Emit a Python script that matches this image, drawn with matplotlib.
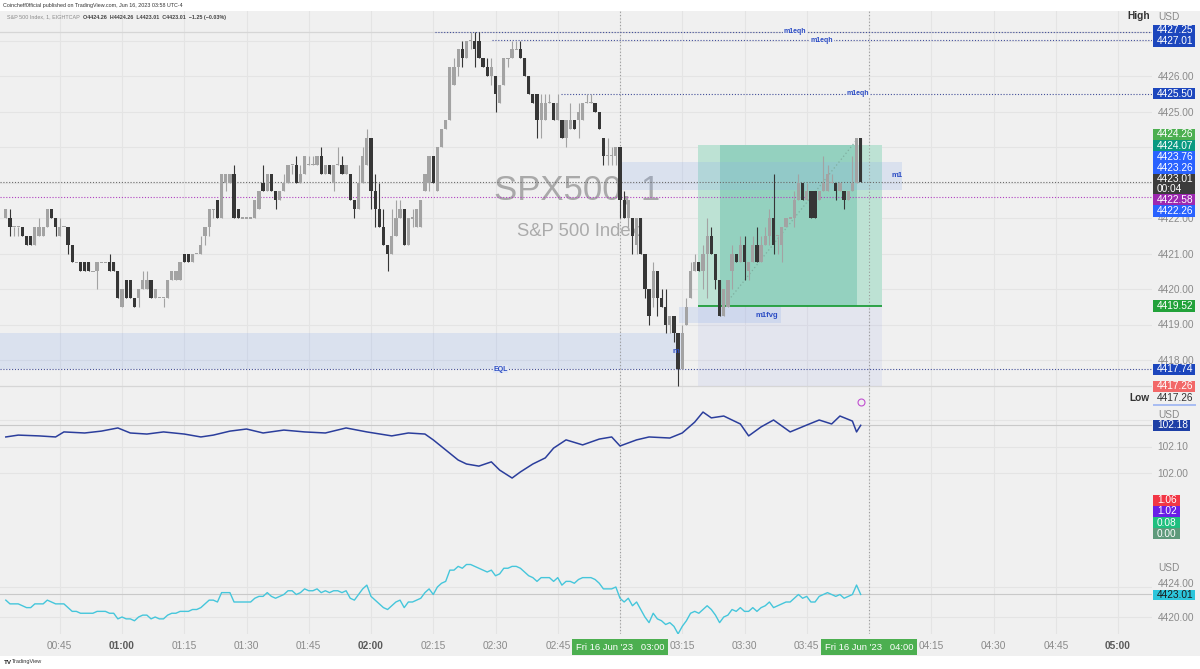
import numpy as np
import matplotlib
matplotlib.use("Agg")
import matplotlib.pyplot as plt
from matplotlib.patches import Rectangle
import matplotlib.transforms as mtrans

plt.rcParams['font.family'] = ['Liberation Sans', 'DejaVu Sans']

# ---------------------------------------------------------------- data
start_minute = 32  # first candle 00:32 (minutes after midnight), 1-minute bars

opens = [
    4422.00, 4422.00, 4421.75, 4421.75, 4421.75, 4421.50, 4421.50, 4421.25, 4421.50, 4421.50,
    4421.75, 4422.25, 4422.00, 4421.50, 4421.75, 4421.75, 4421.25, 4420.75, 4420.75, 4420.75,
    4420.75, 4420.50, 4420.50, 4420.75, 4420.75, 4420.75, 4420.75, 4420.50, 4419.50, 4420.25,
    4420.25, 4419.75, 4419.75, 4420.00, 4420.00, 4420.25, 4419.75, 4419.75, 4419.75, 4419.75,
    4420.25, 4420.25, 4420.25, 4421.00, 4421.00, 4420.75, 4421.00, 4421.00, 4421.50, 4421.75,
    4422.25, 4422.50, 4422.00, 4423.00, 4423.00, 4423.25, 4422.25, 4422.00, 4422.00, 4422.00,
    4422.00, 4422.25, 4423.00, 4422.75, 4423.25, 4422.75, 4422.50, 4422.75, 4423.00, 4423.50,
    4423.50, 4423.00, 4423.25, 4423.50, 4423.50, 4423.50, 4423.75, 4423.25, 4423.50, 4423.00,
    4423.50, 4423.50, 4423.25, 4423.25, 4422.50, 4422.25, 4423.00, 4423.50, 4424.25, 4422.75,
    4422.25, 4421.75, 4421.25, 4421.00, 4421.50, 4422.00, 4422.25, 4421.25, 4422.00, 4421.75,
    4421.75, 4422.75, 4423.00, 4423.75, 4422.75, 4424.00, 4424.50, 4424.75, 4425.75, 4426.25,
    4426.75, 4426.50, 4427.00, 4427.00, 4427.00, 4426.50, 4426.25, 4426.00, 4426.00, 4425.25,
    4425.75, 4426.50, 4426.50, 4426.75, 4426.75, 4426.50, 4426.00, 4425.50, 4425.50, 4424.75,
    4424.75, 4425.25, 4425.25, 4424.75, 4424.75, 4424.25, 4424.50, 4424.75, 4424.75, 4424.75,
    4425.25, 4425.25, 4425.25, 4425.00, 4424.25, 4423.75, 4423.75, 4423.75, 4424.00, 4422.50,
    4422.00, 4422.00, 4421.25, 4422.00, 4421.00, 4420.00, 4419.75, 4420.50, 4419.75, 4419.50,
    4419.00, 4419.25, 4418.75, 4417.75, 4419.00, 4419.75, 4420.50, 4420.75, 4420.50, 4421.00,
    4421.50, 4421.00, 4420.25, 4419.25, 4419.50, 4420.50, 4421.00, 4420.75, 4421.25, 4420.50,
    4420.75, 4421.25, 4420.75, 4421.25, 4421.50, 4422.00, 4421.50, 4421.25, 4421.75, 4422.00,
    4422.00, 4422.50, 4423.00, 4422.50, 4422.75, 4422.75, 4422.50, 4422.75, 4422.75, 4423.00,
    4423.00, 4422.75, 4422.75, 4422.50, 4422.75, 4423.00, 4424.26,
]
highs = [
    4422.25, 4422.25, 4421.75, 4421.75, 4421.75, 4421.50, 4421.50, 4421.75, 4422.00, 4421.75,
    4422.25, 4422.25, 4422.00, 4422.00, 4421.75, 4421.75, 4421.25, 4420.75, 4420.75, 4420.75,
    4420.75, 4420.50, 4420.75, 4420.75, 4420.75, 4421.00, 4420.75, 4420.50, 4420.00, 4420.25,
    4420.25, 4419.75, 4420.00, 4420.50, 4420.50, 4420.25, 4420.00, 4419.75, 4419.75, 4420.25,
    4420.50, 4420.50, 4420.75, 4421.00, 4421.00, 4421.00, 4421.00, 4421.50, 4421.75, 4422.25,
    4422.25, 4422.50, 4423.25, 4423.25, 4423.25, 4423.50, 4422.25, 4422.00, 4422.00, 4422.00,
    4422.50, 4422.75, 4423.50, 4423.25, 4423.25, 4422.75, 4422.75, 4423.25, 4423.50, 4423.50,
    4423.75, 4423.50, 4423.75, 4423.75, 4423.75, 4423.75, 4424.00, 4423.50, 4423.50, 4423.50,
    4424.00, 4423.75, 4423.50, 4423.25, 4422.50, 4423.50, 4424.00, 4424.50, 4424.25, 4423.25,
    4423.00, 4422.25, 4421.25, 4422.25, 4422.50, 4422.50, 4422.25, 4422.00, 4422.25, 4422.25,
    4422.50, 4423.25, 4423.75, 4423.75, 4424.00, 4424.50, 4424.75, 4426.25, 4426.50, 4426.75,
    4427.00, 4427.00, 4427.25, 4427.25, 4427.25, 4426.50, 4426.50, 4426.50, 4426.00, 4425.75,
    4426.50, 4426.50, 4427.00, 4427.00, 4427.00, 4426.50, 4426.00, 4425.50, 4425.50, 4425.50,
    4425.50, 4425.50, 4425.25, 4425.50, 4424.75, 4424.75, 4425.25, 4424.75, 4425.25, 4425.25,
    4425.50, 4425.50, 4425.25, 4425.00, 4424.25, 4424.25, 4424.00, 4424.00, 4424.00, 4422.75,
    4422.50, 4422.00, 4422.00, 4422.00, 4421.00, 4420.00, 4420.75, 4420.50, 4420.00, 4420.00,
    4419.25, 4419.25, 4418.75, 4419.00, 4419.75, 4420.75, 4421.00, 4420.75, 4421.25, 4422.00,
    4421.75, 4421.00, 4420.25, 4420.00, 4420.25, 4421.25, 4421.00, 4421.50, 4421.50, 4420.75,
    4421.50, 4421.75, 4421.50, 4421.75, 4422.25, 4423.25, 4421.50, 4421.75, 4422.00, 4422.00,
    4422.75, 4423.25, 4423.00, 4423.00, 4422.75, 4422.75, 4422.75, 4423.75, 4423.50, 4423.25,
    4423.00, 4423.00, 4422.75, 4422.75, 4423.75, 4424.26, 4424.26,
]
lows = [
    4422.00, 4421.50, 4421.50, 4421.50, 4421.50, 4421.25, 4421.25, 4421.25, 4421.50, 4421.50,
    4421.75, 4422.00, 4421.50, 4421.50, 4421.75, 4421.00, 4420.75, 4420.75, 4420.50, 4420.50,
    4420.50, 4420.50, 4420.00, 4420.75, 4420.75, 4420.50, 4420.50, 4419.75, 4419.50, 4419.75,
    4419.75, 4419.50, 4419.50, 4420.00, 4420.00, 4419.75, 4419.75, 4419.75, 4419.50, 4419.75,
    4420.25, 4420.25, 4420.25, 4420.75, 4420.75, 4420.75, 4421.00, 4421.00, 4421.25, 4421.50,
    4422.00, 4422.00, 4422.00, 4422.75, 4423.00, 4422.00, 4422.00, 4422.00, 4422.00, 4422.00,
    4422.00, 4422.25, 4422.75, 4422.75, 4422.75, 4422.25, 4422.50, 4422.75, 4423.00, 4423.25,
    4423.00, 4423.00, 4423.25, 4423.50, 4423.50, 4423.50, 4423.25, 4423.25, 4423.25, 4422.75,
    4423.50, 4423.25, 4423.25, 4422.50, 4422.00, 4422.25, 4423.00, 4423.50, 4422.25, 4421.75,
    4421.75, 4421.25, 4420.50, 4421.00, 4421.50, 4422.00, 4421.25, 4421.25, 4421.75, 4421.75,
    4421.75, 4422.75, 4422.75, 4423.00, 4422.75, 4424.00, 4424.50, 4424.75, 4425.75, 4426.00,
    4426.25, 4426.50, 4426.75, 4426.25, 4426.50, 4426.25, 4426.00, 4425.75, 4425.00, 4425.25,
    4425.75, 4426.25, 4426.50, 4426.75, 4426.50, 4426.00, 4425.50, 4425.25, 4424.25, 4424.25,
    4424.75, 4425.25, 4424.75, 4424.75, 4424.25, 4424.00, 4424.50, 4424.50, 4424.25, 4424.75,
    4425.25, 4425.25, 4425.00, 4424.50, 4423.50, 4423.50, 4423.50, 4423.50, 4422.00, 4422.00,
    4421.75, 4421.00, 4421.00, 4421.00, 4419.75, 4419.00, 4419.50, 4419.25, 4419.50, 4418.75,
    4418.75, 4418.50, 4417.26, 4417.75, 4419.00, 4419.75, 4420.50, 4420.50, 4420.00, 4419.75,
    4421.00, 4420.00, 4419.25, 4419.25, 4419.50, 4420.00, 4420.75, 4420.75, 4420.25, 4420.25,
    4420.75, 4420.75, 4420.75, 4421.25, 4421.25, 4421.00, 4421.00, 4420.75, 4421.75, 4422.00,
    4421.75, 4422.50, 4422.50, 4422.50, 4422.00, 4422.00, 4422.50, 4422.75, 4422.75, 4423.00,
    4422.50, 4422.75, 4422.25, 4422.50, 4422.75, 4423.00, 4423.01,
]
closes = [
    4422.25, 4421.75, 4421.75, 4421.75, 4421.50, 4421.25, 4421.25, 4421.75, 4421.75, 4421.75,
    4422.25, 4422.00, 4421.75, 4421.75, 4421.75, 4421.25, 4420.75, 4420.75, 4420.50, 4420.50,
    4420.50, 4420.50, 4420.75, 4420.75, 4420.75, 4420.50, 4420.50, 4419.75, 4420.00, 4419.75,
    4419.75, 4419.50, 4420.00, 4420.25, 4420.25, 4419.75, 4420.00, 4419.75, 4419.75, 4420.25,
    4420.50, 4420.50, 4420.75, 4420.75, 4420.75, 4421.00, 4421.00, 4421.25, 4421.75, 4422.25,
    4422.25, 4422.00, 4423.25, 4423.25, 4423.25, 4422.00, 4422.00, 4422.00, 4422.00, 4422.00,
    4422.50, 4422.75, 4422.75, 4423.25, 4422.75, 4422.50, 4422.75, 4423.00, 4423.50, 4423.50,
    4423.00, 4423.25, 4423.75, 4423.50, 4423.50, 4423.75, 4423.25, 4423.50, 4423.25, 4423.50,
    4423.50, 4423.25, 4423.50, 4422.50, 4422.25, 4423.00, 4423.75, 4424.25, 4422.75, 4422.25,
    4421.75, 4421.25, 4421.00, 4421.50, 4422.00, 4422.25, 4421.25, 4422.00, 4422.00, 4422.25,
    4422.50, 4423.25, 4423.75, 4423.00, 4424.00, 4424.50, 4424.75, 4426.25, 4426.25, 4426.75,
    4426.50, 4427.00, 4427.00, 4426.75, 4426.50, 4426.25, 4426.00, 4426.25, 4425.50, 4425.75,
    4426.50, 4426.50, 4426.75, 4426.75, 4426.50, 4426.00, 4425.50, 4425.25, 4424.75, 4425.25,
    4425.25, 4425.25, 4424.75, 4425.25, 4424.25, 4424.75, 4424.75, 4424.50, 4425.00, 4425.25,
    4425.25, 4425.25, 4425.00, 4424.50, 4423.75, 4423.75, 4423.75, 4424.00, 4422.50, 4422.00,
    4422.50, 4421.50, 4422.00, 4421.00, 4420.00, 4419.25, 4420.50, 4419.75, 4419.50, 4419.00,
    4419.25, 4418.75, 4417.75, 4418.75, 4419.50, 4420.50, 4420.75, 4420.50, 4421.00, 4421.50,
    4421.00, 4420.25, 4419.25, 4420.00, 4420.25, 4421.00, 4420.75, 4421.25, 4420.75, 4420.75,
    4421.25, 4420.75, 4421.25, 4421.50, 4422.00, 4421.25, 4421.50, 4421.75, 4422.00, 4422.00,
    4422.50, 4423.00, 4422.50, 4422.75, 4422.00, 4422.00, 4422.75, 4423.00, 4423.25, 4423.00,
    4422.75, 4423.00, 4422.50, 4422.75, 4423.00, 4424.26, 4423.01,
]

# second pane (USD index-like series), readings at candle offsets
dxy_idx = [0, 3, 8, 12, 14, 19, 23, 27, 30, 34, 38, 43, 47, 50, 54, 58, 62, 67, 72, 77,
           82, 87, 93, 97, 101, 103, 106, 109, 111, 114, 117, 119, 122, 124, 127, 130, 132,
           135, 139, 143, 146, 148, 152, 155, 160, 163, 166, 168, 170, 173, 177, 179, 182,
           185, 189, 193, 196, 199, 201, 204, 205, 206]
dxy_vals = [102.136, 102.143, 102.140, 102.136, 102.155, 102.151, 102.158, 102.170, 102.151,
            102.147, 102.155, 102.147, 102.136, 102.143, 102.158, 102.166, 102.151, 102.162,
            102.155, 102.151, 102.170, 102.155, 102.140, 102.151, 102.147, 102.125, 102.087,
            102.049, 102.034, 102.026, 102.042, 102.011, 101.981, 102.004, 102.034, 102.057,
            102.094, 102.125, 102.106, 102.128, 102.136, 102.102, 102.125, 102.136, 102.132,
            102.151, 102.192, 102.230, 102.208, 102.215, 102.185, 102.140, 102.174, 102.200,
            102.155, 102.181, 102.200, 102.185, 102.215, 102.196, 102.155, 102.180]

# third pane indicator values (labels only)
ind_values = ["1.06", "1.02", "0.08", "0.00"]
ind_colors = ["#f23645", "#6a1fe6", "#1fbf7f", "#5e9a7b"]

# drawn levels
eqh_levels = [4427.25, 4427.01, 4425.50]
eqh_start = [135.5, 149.2, 165.8]          # minutes after midnight
eqh_label_t = [222.1, 228.6, 237.3]
eql_level = 4417.74
purple_level = 4422.58
pos_entry, pos_target, pos_stop = 4419.52, 4424.07, 4417.26
pos_t = (198.8, 243.1)
pos_inner_t = (204.1, 237.1)
m1_zone = (180.0, 247.9, 4422.79, 4423.58)
fvg_zone = (194.2, 218.8, 4419.05, 4419.50)
eq_zone = (195.4, 4417.74, 4418.76)
dxy_last = 102.18

time_ticks = list(range(45, 301, 15))
marked_times = [180, 240]

# ---------------------------------------------------------------- layout
W, H = 1200, 669
fig = plt.figure(figsize=(W / 100, H / 100), dpi=100)
fig.patch.set_facecolor('white')
BG = '#f0f0f0'
GRID = '#e4e4e4'
LIGHT = '#a3a3a3'
DARK = '#363636'
NAVY = '#1c46bd'
BLUE = '#2962ff'
TXT = '#8a8a8a'

fig.add_artist(Rectangle((0, 1 - 656 / H), 1, (656 - 11) / H, transform=fig.transFigure,
                         facecolor=BG, edgecolor='none', zorder=-10))

PXM = 4.15
T0 = 180 - 620 / PXM
XLIM = (T0, T0 + 1152 / PXM)


def rect(x0, y0, x1, y1):
    return [x0 / W, 1 - y1 / H, (x1 - x0) / W, (y1 - y0) / H]


ax = fig.add_axes(rect(0, 11, 1152, 389))
ax2 = fig.add_axes(rect(0, 389, 1152, 490))
ax3 = fig.add_axes(rect(0, 490, 1152, 556))
ax4 = fig.add_axes(rect(0, 556, 1152, 634))
axes = [ax, ax2, ax3, ax4]

ax.set_ylim(4418 - 29 / 35.5, 4418 + 349 / 35.5)
ax2.set_ylim(102 + (473 - 490) / 265, 102 + (473 - 389) / 265)
ax3.set_ylim(0, 1)
ax4.set_ylim(4420 + (617 - 634) / 7.5, 4420 + (617 - 556) / 7.5)

for a in axes:
    a.set_xlim(*XLIM)
    a.set_facecolor('none')
    for s in a.spines.values():
        s.set_visible(False)
    a.yaxis.tick_right()
    a.tick_params(axis='both', length=0, labelsize=7.3, labelcolor=TXT, pad=4)
    a.set_xticks([])
    for tt in time_ticks:
        a.axvline(tt, color=GRID, lw=0.8, zorder=0)
    for tt in marked_times:
        a.axvline(tt, color='#9a9a9a', lw=0.8, ls=(0, (1, 2)), zorder=4)
ax3.set_yticks([])

# ---------------------------------------------------------------- main pane
for p in range(4418, 4428):
    ax.axhline(p, color=GRID, lw=0.8, zorder=0)
ax.set_yticks([4418, 4419, 4420, 4421, 4422, 4425, 4426])
ax.set_yticklabels([f"{v:.2f}" for v in [4418, 4419, 4420, 4421, 4422, 4425, 4426]])

o = np.array(opens); hi = np.array(highs); lo = np.array(lows); c = np.array(closes)
t = start_minute + np.arange(len(c))
cols = np.where(c >= o, LIGHT, DARK)
ax.vlines(t, lo, hi, colors=cols, lw=0.8, zorder=6)
bh = np.maximum(np.abs(c - o), 0.035)
bb = np.where(np.abs(c - o) < 0.035, np.minimum(o, c) - 0.0175, np.minimum(o, c))
ax.bar(t, bh, width=0.78, bottom=bb, color=cols, linewidth=0, zorder=7)

# high / low range lines
ax.axhline(max(highs), color='#d6d6d6', lw=0.9, zorder=1)
ax.axhline(min(lows), color='#d6d6d6', lw=0.9, zorder=1)

# zones
zb = (0.55, 0.68, 0.92, 0.22)
ax.add_patch(Rectangle((XLIM[0], eq_zone[1]), eq_zone[0] - XLIM[0], eq_zone[2] - eq_zone[1],
                       facecolor=zb, edgecolor='none', zorder=2))
ax.add_patch(Rectangle((pos_t[0], pos_stop), pos_t[1] - pos_t[0], pos_entry - pos_stop,
                       facecolor=(0.55, 0.6, 0.9, 0.12), edgecolor='none', zorder=1.5))
ax.add_patch(Rectangle((pos_t[0], pos_entry), pos_t[1] - pos_t[0], pos_target - pos_entry,
                       facecolor='#bde2d4', edgecolor='none', zorder=1.5))
ax.add_patch(Rectangle((pos_inner_t[0], pos_entry), pos_inner_t[1] - pos_inner_t[0],
                       pos_target - pos_entry, facecolor='#94d1bf', edgecolor='none', zorder=1.6))
ax.add_patch(Rectangle((m1_zone[0], m1_zone[2]), m1_zone[1] - m1_zone[0], m1_zone[3] - m1_zone[2],
                       facecolor=zb, edgecolor='none', zorder=2))
ax.add_patch(Rectangle((fvg_zone[0], fvg_zone[2]), fvg_zone[1] - fvg_zone[0],
                       fvg_zone[3] - fvg_zone[2], facecolor=zb, edgecolor='none', zorder=2))
ax.hlines(pos_entry, pos_t[0], pos_t[1], color='#1f9d3b', lw=1.3, zorder=5)
ax.plot([pos_inner_t[0] + 1.5, pos_inner_t[1]], [pos_entry + 0.08, closes[-2] - 0.05],
        color='#7fae9f', lw=0.9, ls=(0, (1, 2)), zorder=5)

# dotted levels
dot = (0, (1, 1.6))
for lvl, st, lt in zip(eqh_levels, eqh_start, eqh_label_t):
    ax.hlines(lvl, st, XLIM[1], color='#44509a', lw=0.8, ls=dot, zorder=4)
    ax.text(lt, lvl, "m1eqh", color='#2b4cc4', fontsize=5, fontweight='bold', ha='center',
            va='center', zorder=8, bbox=dict(boxstyle='square,pad=0.1', fc=BG, ec='none'))
ax.axhline(eql_level, color='#44509a', lw=0.8, ls=dot, zorder=4)
ax.text(151.2, eql_level, "EQL", color='#2b4cc4', fontsize=5, fontweight='bold', ha='center',
        va='center', zorder=8, bbox=dict(boxstyle='square,pad=0.1', fc='#e2e7f2', ec='none'))
ax.axhline(closes[-1], color='#6a6a6a', lw=0.8, ls=dot, zorder=4)
ax.axhline(purple_level, color='#b040c0', lw=0.8, ls=dot, zorder=4)
ax.text(246.7, (m1_zone[2] + m1_zone[3]) / 2, "m1", color='#2b4cc4', fontsize=5.5,
        fontweight='bold', ha='center', va='center', zorder=8)
ax.text(215.4, 4419.24, "m1fvg", color='#2b4cc4', fontsize=5.5, fontweight='bold',
        ha='center', va='center', zorder=8)
ax.text(193.5, 4418.23, "m", color='#2b4cc4', fontsize=5.5, fontweight='bold',
        ha='center', va='center', zorder=8)

# watermark
ax.text(577 / W, 1 - 190 / H, "SPX500, 1", transform=fig.transFigure, fontsize=25,
        color='#a9a9a9', ha='center', va='center', zorder=0.5)
ax.text(578 / W, 1 - 231 / H, "S&P 500 Index", transform=fig.transFigure, fontsize=13.3,
        color='#ababab', ha='center', va='center', zorder=0.5)

# ---------------------------------------------------------------- pane 2
for v in [102.0, 102.1, 102.2]:
    ax2.axhline(v, color=GRID, lw=0.8, zorder=0)
ax2.axhline(dxy_last, color='#c9c9c9', lw=0.8, zorder=1)
ax2.plot(start_minute + np.array(dxy_idx), dxy_vals, color='#2b3e9c', lw=1.1, zorder=5)
ax2.set_yticks([102.0, 102.1])
ax2.set_yticklabels(["102.00", "102.10"])
ax2.plot([238.1], [102 + (473 - 402) / 265], marker='o', ms=5, mfc='none', mec='#c050d0',
         mew=0.8, zorder=6)

# ---------------------------------------------------------------- pane 4
for v in [4420, 4424]:
    ax4.axhline(v, color=GRID, lw=0.8, zorder=0)
ax4.axhline(closes[-1], color='#c9c9c9', lw=0.8, zorder=1)
ax4.plot(t, c, color='#45c6db', lw=1.0, zorder=5)
ax4.set_yticks([4420])
ax4.set_yticklabels(["4420.00"])

# time axis
ax4.set_xticks(time_ticks)
labels = []
for m in time_ticks:
    labels.append("" if m in marked_times else f"{m // 60:02d}:{m % 60:02d}")
ax4.set_xticklabels(labels)
ax4.tick_params(axis='x', pad=5, labelsize=7.3, labelcolor=TXT)
for m, lab in zip(time_ticks, ax4.get_xticklabels()):
    if m % 60 == 0:
        lab.set_fontweight('bold')
        lab.set_color('#5a5a5a')
bt = mtrans.blended_transform_factory(ax4.transData, fig.transFigure)
for m in marked_times:
    ax4.text(m, 1 - 647 / H, f"Fri 16 Jun '23   {m // 60:02d}:{m % 60:02d}", transform=bt,
             ha='center', va='center', fontsize=6.8, color='white', zorder=10, clip_on=False,
             bbox=dict(boxstyle='square,pad=0.38', fc='#4caf50', ec='none'))

# ---------------------------------------------------------------- price scale labels


def ypx(a, v):
    return H - a.transData.transform((0, v))[1]


def resolve(centers, heights):
    order = list(np.argsort(centers))
    cc = [centers[k] for k in order]
    hh = [heights[k] for k in order]
    blocks = []
    for k in range(len(cc)):
        blocks.append([k, k, cc[k] - hh[k] / 2])
        while len(blocks) > 1:
            a_, b_ = blocks[-2], blocks[-1]
            if a_[2] + sum(hh[a_[0]:a_[1] + 1]) > b_[2] + 0.01:
                s, e = a_[0], b_[1]
                hs = np.array(hh[s:e + 1])
                offs = np.concatenate([[0], np.cumsum(hs)[:-1]]) + hs / 2
                top = float(np.mean(np.array(cc[s:e + 1]) - offs))
                blocks[-2:] = [[s, e, top]]
            else:
                break
    pos = [0.0] * len(cc)
    for s, e, top in blocks:
        y = top
        for k in range(s, e + 1):
            pos[order[k]] = y + hh[k] / 2
            y += hh[k]
    return pos


def box(y, text, fc, tc='white', x0=1153, x1=1195, h=11.2):
    fig.add_artist(Rectangle((x0 / W, 1 - (y + h / 2) / H), (x1 - x0) / W, h / H,
                             transform=fig.transFigure, facecolor=fc, edgecolor='none',
                             zorder=20))
    fig.text((x0 + 4) / W, 1 - y / H, text, color=tc, fontsize=7.3, ha='left', va='center',
             zorder=21, linespacing=1.05)


main_labels = [
    (4427.25, NAVY, "4427.25", 11.2),
    (4427.01, NAVY, "4427.01", 11.2),
    (4425.50, NAVY, "4425.50", 11.2),
    (highs[-1], '#4caf50', f"{highs[-1]:.2f}", 11.2),
    (pos_target, '#089981', f"{pos_target:.2f}", 11.2),
    (4423.76, BLUE, "4423.76", 11.2),
    (4423.26, BLUE, "4423.26", 11.2),
    (closes[-1], '#3b3b3b', f"{closes[-1]:.2f}\n00:04", 20.5),
    (purple_level, '#9c27b0', f"{purple_level:.2f}", 11.2),
    (4422.26, BLUE, "4422.26", 11.2),
    (pos_entry, '#22a23a', f"{pos_entry:.2f}", 11.2),
    (eql_level, NAVY, f"{eql_level:.2f}", 11.2),
    (pos_stop, '#f26868', f"{pos_stop:.2f}", 11.2),
]
ys = resolve([ypx(ax, v) for v, _, _, _ in main_labels], [h for _, _, _, h in main_labels])
for (v, fc, txt, h), y in zip(main_labels, ys):
    box(y, txt, fc, h=h)

fig.text(1150 / W, 1 - 16 / H, "High", fontsize=7.3, fontweight='bold', color='#333333',
         ha='right', va='center')
fig.text(1158 / W, 1 - 17 / H, "USD", fontsize=7.3, color=TXT, ha='left', va='center')
fig.text(1150 / W, 1 - 398 / H, "Low", fontsize=7.3, fontweight='bold', color='#333333',
         ha='right', va='center')
fig.text(1157 / W, 1 - 398 / H, f"{min(lows):.2f}", fontsize=7.3, color='#333333', ha='left',
         va='center')
fig.add_artist(Rectangle((1153 / W, 1 - 406 / H), 43 / W, 2 / H, transform=fig.transFigure,
                         facecolor='#a9bdf2', edgecolor='none', zorder=20))

fig.text(1158 / W, 1 - 415 / H, "USD", fontsize=7.3, color=TXT, ha='left', va='center')
box(ypx(ax2, dxy_last), f"{dxy_last:.2f}", '#1d3fa6', x1=1190)

ind_y = resolve([517.0] * len(ind_values), [11.2] * len(ind_values))
for y, txt, fc in zip(ind_y, ind_values, ind_colors):
    box(y, txt, fc, x1=1180)

fig.text(1158 / W, 1 - 568 / H, "USD", fontsize=7.3, color=TXT, ha='left', va='center')
# 4424.00 scale label sits just above the last-value box
fig.text(1157.6 / W, 1 - (ypx(ax4, 4424) - 3.5) / H, "4424.00", fontsize=7.3, color=TXT,
         ha='left', va='center')
box(ypx(ax4, closes[-1]) + 0.5, f"{closes[-1]:.2f}", '#2cc6dc', tc='#1a1a1a', h=10.5)

# ---------------------------------------------------------------- header / footer
fig.text(3 / W, 1 - 5.5 / H, "Coincheff0fficial published on TradingView.com, Jun 16, 2023 03:58 UTC-4",
         fontsize=3.9, color='#333333', ha='left', va='center')
chg = closes[-1] - closes[-2]
pct = chg / closes[-2] * 100
t1 = fig.text(7 / W, 1 - 17 / H, "S&P 500 Index, 1, EIGHTCAP", fontsize=3.9, color='#8a8a8a',
              ha='left', va='center')
r = fig.canvas.get_renderer()
x_end = t1.get_window_extent(r).x1
fig.text((x_end + 3) / W, 1 - 17 / H,
         f"O{opens[-1]:.2f}  H{highs[-1]:.2f}  L{lows[-1]:.2f}  C{closes[-1]:.2f}  "
         f"\u2212{abs(chg):.2f} (\u2212{abs(pct):.2f}%)",
         fontsize=3.9, color='#444444', ha='left', va='center', fontweight='bold')
fig.text(4 / W, 1 - 662 / H, "TV", fontsize=4.5, fontweight='bold', color='#222222',
         ha='left', va='center')
fig.text(12 / W, 1 - 662 / H, "TradingView", fontsize=4, color='#333333', ha='left',
         va='center')

fig.savefig("out.png", dpi=100, facecolor='white')
